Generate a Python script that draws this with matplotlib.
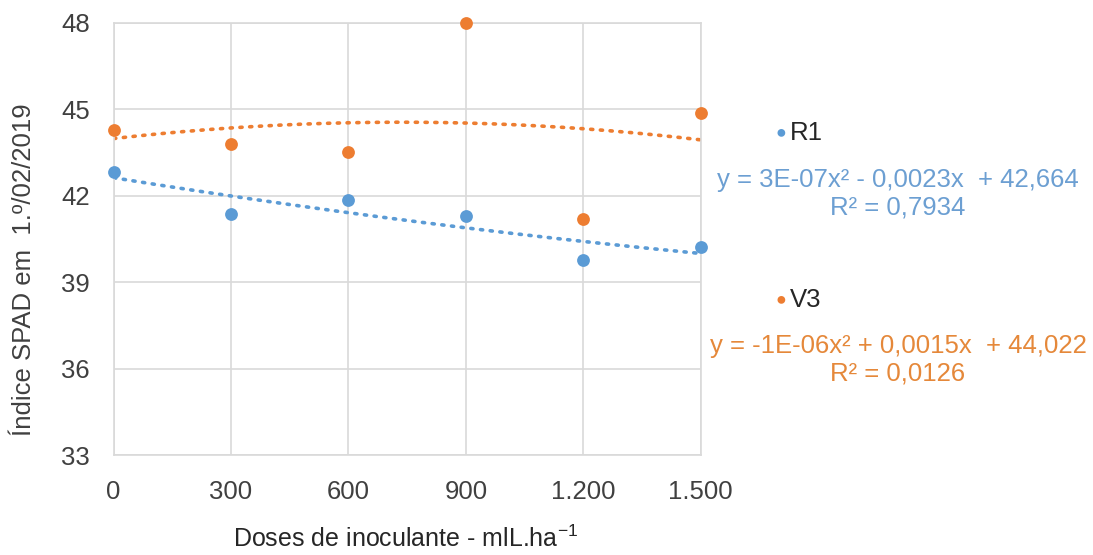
import numpy as np
import matplotlib
matplotlib.use("Agg")
import matplotlib.pyplot as plt

plt.rcParams['font.family'] = ['Liberation Sans', 'DejaVu Sans']
plt.rcParams['mathtext.fontset'] = 'custom'
plt.rcParams['mathtext.rm'] = 'Liberation Sans'

# dados
doses = [0, 300, 600, 900, 1200, 1500]
r1 = [42.83, 41.37, 41.85, 41.30, 39.77, 40.22]
v3 = [44.28, 43.80, 43.52, 48.00, 41.20, 44.88]

tick_labels = ["0", "300", "600", "900", "1.200", "1.500"]
y_ticks = [33, 36, 39, 42, 45, 48]

eq_r1 = "y = 3E-07x² - 0,0023x  + 42,664\nR² = 0,7934"
eq_v3 = "y = -1E-06x² + 0,0015x  + 44,022\nR² = 0,0126"

blue = "#5B9BD5"
orange = "#ED7D31"
blue_txt = "#6C9FD2"
orange_txt = "#E5883A"

fig = plt.figure(figsize=(10.93, 5.55), dpi=100)
ax = fig.add_axes([0.104, 0.18, 0.537, 0.7786])

# linhas de tendência (polinomial de 2ª ordem, como no Excel)
xx = np.linspace(0, 1500, 200)
for ys, c in [(r1, blue), (v3, orange)]:
    coef = np.polyfit(doses, ys, 2)
    ax.plot(xx, np.polyval(coef, xx), color=c, lw=2.6,
            linestyle=(0, (0.6, 2.1)), dash_capstyle='round', zorder=2)

ax.scatter(doses, r1, s=85, color=blue, zorder=3, linewidths=0, clip_on=False)
ax.scatter(doses, v3, s=85, color=orange, zorder=3, linewidths=0, clip_on=False)

ax.set_xlim(0, 1500)
ax.set_ylim(33, 48)
ax.set_xticks(doses)
ax.set_xticklabels(tick_labels)
ax.set_yticks(y_ticks)

ax.grid(True, color="#D9D9D9", lw=1.2)
ax.set_axisbelow(True)
for s in ax.spines.values():
    s.set_color("#D9D9D9")
    s.set_linewidth(1.2)
ax.tick_params(length=0, labelsize=18.5, colors="#404040")
ax.tick_params(axis='x', pad=18)
ax.tick_params(axis='y', pad=17)

ax.set_ylabel("Índice SPAD em  1.º/02/2019", fontsize=18.5, color="#404040")
ax.yaxis.set_label_coords(-0.133, 0.43)
ax.set_xlabel("Doses de inoculante - mlL.ha$^{-1}$", fontsize=18, color="#262626")
ax.xaxis.set_label_coords(0.497, -0.163)

# legenda e equações à direita
fig.text(790 / 1093, 1 - 133 / 555, "R1", fontsize=18.5, color="#262626",
         va='center', ha='left')
fig.text(781 / 1093, 1 - 133 / 555, "●", fontsize=13, color=blue,
         va='center', ha='center')
fig.text(898 / 1093, 1 - 194 / 555, eq_r1, fontsize=18.5, color=blue_txt,
         va='center', ha='center', linespacing=1.2, multialignment='center')

fig.text(790 / 1093, 1 - 300 / 555, "V3", fontsize=18.5, color="#262626",
         va='center', ha='left')
fig.text(781 / 1093, 1 - 300 / 555, "●", fontsize=13, color=orange,
         va='center', ha='center')
fig.text(898 / 1093, 1 - 360 / 555, eq_v3, fontsize=18.5, color=orange_txt,
         va='center', ha='center', linespacing=1.2, multialignment='center')

fig.savefig("out.png", dpi=100)
